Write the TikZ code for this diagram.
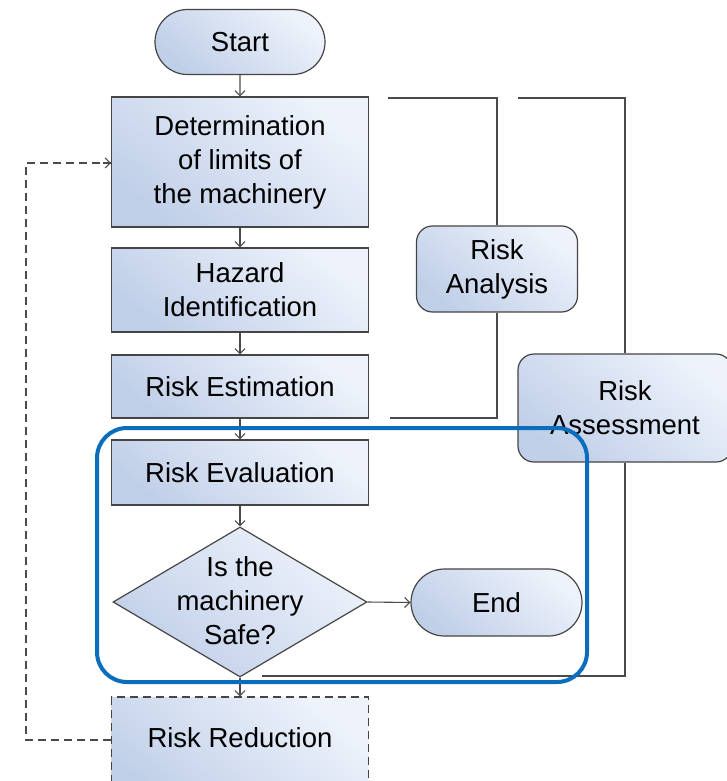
\documentclass[tikz,border=0pt]{standalone}
\usepackage{fontspec}
\setmainfont{Liberation Sans}
\usetikzlibrary{shapes.misc,shapes.geometric,arrows.meta}
\definecolor{boxlight}{HTML}{EEF3FB}
\definecolor{boxdark}{HTML}{C0CFE8}
\definecolor{edge}{HTML}{454545}
\definecolor{wire}{HTML}{4A4A4A}
\definecolor{focusblue}{HTML}{0A6EBD}
\begin{document}
\begin{tikzpicture}[x=1pt,y=-1pt,
  font=\fontsize{27.5}{34}\selectfont,
  shaded/.style={top color=boxlight, bottom color=boxdark, shading angle=-40},
  procbox/.style={shaded, draw=edge, line width=1.2pt, minimum width=257pt, align=center, inner sep=0pt},
  termbox/.style={shaded, draw=edge, line width=1.2pt, rounded rectangle, align=center, inner sep=0pt},
  groupbox/.style={shaded, draw=edge, line width=1.2pt, rounded corners=16pt, align=center, inner sep=0pt},
  flow/.style={draw=wire, line width=1.1pt, -{Straight Barb[length=5pt,width=10pt]}},
  bracket/.style={draw=wire, line width=1.1pt},
  loopback/.style={draw=wire, line width=1.3pt, dash pattern=on 8pt off 5pt}
]
\clip (0,0) rectangle (727,781);
\fill[white] (0,0) rectangle (727,781);

% nodes
\node[termbox, minimum width=170pt, minimum height=65pt] (start) at (240,42) {Start};
\node[procbox, minimum height=130pt] (det) at (240,162) {Determination\\of limits of\\the machinery};
\node[procbox, minimum height=84pt] (haz) at (240,290) {Hazard\\Identification};
\node[procbox, minimum height=63pt] (est) at (240,386.5) {Risk Estimation};
\node[procbox, minimum height=65pt] (eva) at (240,472.5) {Risk Evaluation};
\node[diamond, shaded, draw=edge, line width=1.2pt, minimum width=254pt, minimum height=150pt, inner sep=0pt] (safe) at (240,602) {};
\node[align=center] (safetext) at (240,601) {Is the\\machinery\\Safe?};
\node[termbox, minimum width=171pt, minimum height=67pt] (end) at (496.5,602.5) {End};
\node[procbox, minimum height=110pt, dash pattern=on 8pt off 5pt] (rr) at (240,752) {};
\node (rrtext) at (240,738) {Risk Reduction};
\node[groupbox, minimum width=161pt, minimum height=86pt] (rana) at (497,269) {Risk\\Analysis};
\node[groupbox, minimum width=214pt, minimum height=108pt] (rass) at (625,408) {Risk\\Assessment};

% main flow
\draw[flow] (start) -- (det);
\draw[flow] (det) -- (haz);
\draw[flow] (haz) -- (est);
\draw[flow] (est) -- (eva);
\draw[flow] (eva) -- (safe.north);
\draw[flow] (safe.south) -- (rr.north);
\draw[flow] (safe.east) -- (end.west);

% loop back
\coordinate (lbot) at (26,740);
\coordinate (ltop) at (26,163);
\draw[loopback] (rr.west |- lbot) -- (lbot) -- (ltop) -- (det.west |- ltop);
\draw[flow] ([xshift=-8pt]det.west |- ltop) -- (det.west |- ltop);

% risk analysis bracket
\coordinate (a1) at (388,98);
\coordinate (a2) at (497,98);
\coordinate (a3) at (497,418);
\coordinate (a4) at (390,418);
\draw[bracket] (a1) -- (a2) -- (rana.north);
\draw[bracket] (rana.south) -- (a3) -- (a4);

% risk assessment bracket
\coordinate (b1) at (518,98);
\coordinate (b2) at (625,98);
\coordinate (b3) at (625,676);
\coordinate (b4) at (262,676);
\draw[bracket] (b1) -- (b2) -- (rass.north);
\draw[bracket] (rass.south) -- (b3) -- (b4);

% highlight
\draw[focusblue, line width=4pt, rounded corners=30pt] (97,428) rectangle (587,682);
\end{tikzpicture}
\end{document}
